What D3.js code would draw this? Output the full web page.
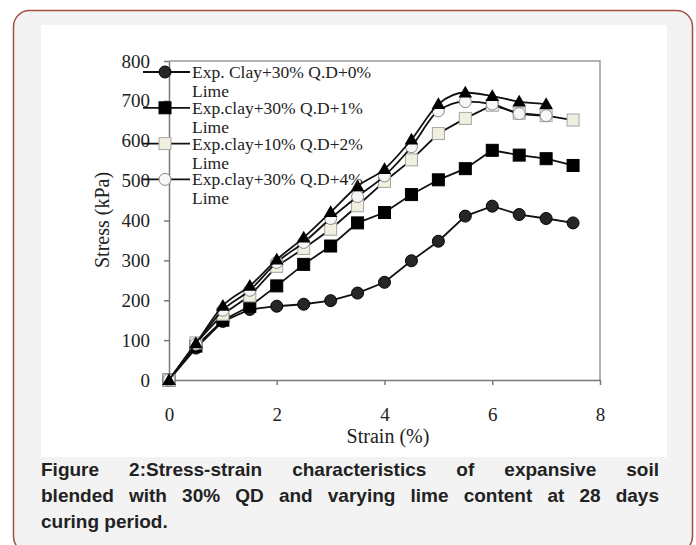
<!doctype html>
<html>
<head>
<meta charset="UTF-8">
<title>Stress-strain</title>
<script src="https://d3js.org/d3.v7.min.js"></script>
<style>
body { margin:0; background:#fff; }
#wrap { position:relative; width:696px; height:545px; overflow:hidden; }
.cap { position:absolute; left:41px; width:618px; font:bold 19px "Liberation Sans", Arial, sans-serif; color:#222; text-align:justify; text-align-last:justify; white-space:nowrap; line-height:26px; }
.cap.last { text-align-last:left; }
</style>
</head>
<body>
<div id="wrap"></div>
<script>

// -------------------------------------- data

var strain = [0, 0.5, 1, 1.5, 2, 2.5, 3, 3.5, 4, 4.5, 5, 5.5, 6, 6.5, 7, 7.5];

var lime0 = [0, 80, 147, 177, 185, 190, 199, 218, 245, 299, 348, 411, 436, 415, 405, 394];
var lime1 = [0, 85, 150, 185, 236, 290, 336, 394, 420, 465, 502, 530, 576, 564, 555, 538];
var lime2 = [0, 93, 165, 211, 285, 330, 378, 437, 498, 552, 618, 656, 689, 669, 663, 652];
var lime4 = [0, 90, 175, 225, 295, 345, 405, 460, 512, 585, 675, 698, 692, 668, 663];
var extra = [0, 92, 186, 236, 302, 357, 421, 486, 529, 603, 692, 721, 712, 698, 692];

var legendLines = [
	["Exp. Clay+30% Q.D+0%", "Lime"],
	["Exp.clay+30% Q.D+1%", "Lime"],
	["Exp.clay+10% Q.D+2%", "Lime"],
	["Exp.clay+30% Q.D+4%", "Lime"]
];

var xTicks = [0, 2, 4, 6, 8];
var yTicks = [0, 100, 200, 300, 400, 500, 600, 700, 800];

var captionLines = [
	"Figure 2:Stress-strain characteristics of expansive soil",
	"blended with 30% QD and varying lime content at 28 days",
	"curing period."
];

// -------------------------------------- colours

var frame_col = "#a0523d";
var grey_bg = "#f3f3f3";
var axis_col = "#7a7a7a";
var text_col = "#222222";
var serif = "'Liberation Serif', 'Times New Roman', serif";

// -------------------------------------- board

var wrap = d3.select("#wrap");

var svg = wrap.append("svg")
	.attr("width", 696)
	.attr("height", 545)
	.style("display", "block");

svg.append("rect")
	.attr("x", 13.5).attr("y", 10.5)
	.attr("width", 679).attr("height", 542)
	.attr("rx", 16)
	.style("fill", grey_bg)
	.style("stroke", frame_col)
	.style("stroke-width", 1.5);

svg.append("rect")
	.attr("x", 41).attr("y", 25)
	.attr("width", 626).attr("height", 432)
	.style("fill", "#ffffff");

// -------------------------------------- scales

var x = d3.scaleLinear().domain([0, 8]).range([169, 600]);
var y = d3.scaleLinear().domain([0, 800]).range([380, 61]);

// plot frame (top + right)
svg.append("path")
	.attr("d", "M" + x(0) + "," + y(800) + "H" + x(8) + "V" + y(0))
	.style("fill", "none")
	.style("stroke", "#9a9a9a")
	.style("stroke-width", 1.5);

// -------------------------------------- axes

var xAxis = svg.append("g")
	.attr("transform", "translate(0," + y(0) + ")")
	.call(d3.axisBottom(x).tickValues(xTicks).tickSizeInner(5).tickSizeOuter(0).tickPadding(24).tickFormat(d3.format("d")));

var yAxis = svg.append("g")
	.attr("transform", "translate(" + x(0) + ",0)")
	.call(d3.axisLeft(y).tickValues(yTicks).tickSizeInner(5).tickSizeOuter(0).tickPadding(14).tickFormat(d3.format("d")));

[xAxis, yAxis].forEach(function(g) {
	g.selectAll("path, line").style("stroke", axis_col).style("stroke-width", 1.5);
	g.selectAll("text")
		.style("font-family", serif)
		.style("font-size", "19px")
		.style("fill", text_col);
});
xAxis.selectAll("text").attr("dy", null).attr("y", 41);

svg.append("text")
	.text("Strain (%)")
	.attr("x", 388).attr("y", 443)
	.attr("text-anchor", "middle")
	.style("font-family", serif).style("font-size", "20px").style("fill", text_col);

svg.append("text")
	.text("Stress  (kPa)")
	.attr("transform", "translate(109,220) rotate(-90)")
	.attr("text-anchor", "middle")
	.style("font-family", serif).style("font-size", "20px").style("fill", text_col);

// -------------------------------------- series

var series = [
	{ values: lime0, marker: "circle", fill: "#262626", stroke: "#000", curve: d3.curveLinear },
	{ values: lime1, marker: "square", fill: "#000", stroke: "#000", curve: d3.curveLinear },
	{ values: lime2, marker: "square", fill: "#f1efdf", stroke: "#a5a5a5", curve: d3.curveLinear },
	{ values: lime4, marker: "circle", fill: "#f7f7f7", stroke: "#8a8a8a", curve: d3.curveMonotoneX },
	{ values: extra, marker: "triangle", fill: "#000", stroke: "#000", curve: d3.curveMonotoneX }
];

function drawMarker(g, s, cx, cy) {
	if (s.marker === "circle") {
		g.append("circle").attr("cx", cx).attr("cy", cy).attr("r", 6)
			.style("fill", s.fill).style("stroke", s.stroke).style("stroke-width", 1);
	} else if (s.marker === "square") {
		g.append("rect").attr("x", cx - 6).attr("y", cy - 6).attr("width", 12).attr("height", 12)
			.style("fill", s.fill).style("stroke", s.stroke).style("stroke-width", 1);
	} else {
		g.append("path").attr("d", d3.symbol().type(d3.symbolTriangle).size(80)())
			.attr("transform", "translate(" + cx + "," + (cy + 1) + ")")
			.style("fill", s.fill);
	}
}

series.forEach(function(s) {
	var pts = s.values.map(function(v, i) { return [strain[i], v]; });
	var line = d3.line().x(d => x(d[0])).y(d => y(d[1])).curve(s.curve);
	var g = svg.append("g");
	g.append("path")
		.attr("d", line(pts))
		.style("fill", "none")
		.style("stroke", "#111")
		.style("stroke-width", 1.8);
	pts.forEach(function(p) { drawMarker(g, s, x(p[0]), y(p[1])); });
});

// -------------------------------------- legend

legendLines.forEach(function(lab, i) {
	var ly = 72 + 35.8 * i;
	var g = svg.append("g");
	g.append("line").attr("x1", 143).attr("x2", 190).attr("y1", ly).attr("y2", ly)
		.style("stroke", "#111").style("stroke-width", 1.8);
	drawMarker(g, series[i], 165, ly);
	lab.forEach(function(t, k) {
		g.append("text").text(t)
			.attr("x", 192).attr("y", ly + 6 + 19 * k)
			.style("font-family", serif).style("font-size", "17.5px").style("fill", text_col);
	});
});

// -------------------------------------- caption

captionLines.forEach(function(t, i) {
	wrap.append("div")
		.attr("class", i === captionLines.length - 1 ? "cap last" : "cap")
		.style("top", (457 + 26 * i) + "px")
		.text(t);
});

</script>
</body>
</html>
